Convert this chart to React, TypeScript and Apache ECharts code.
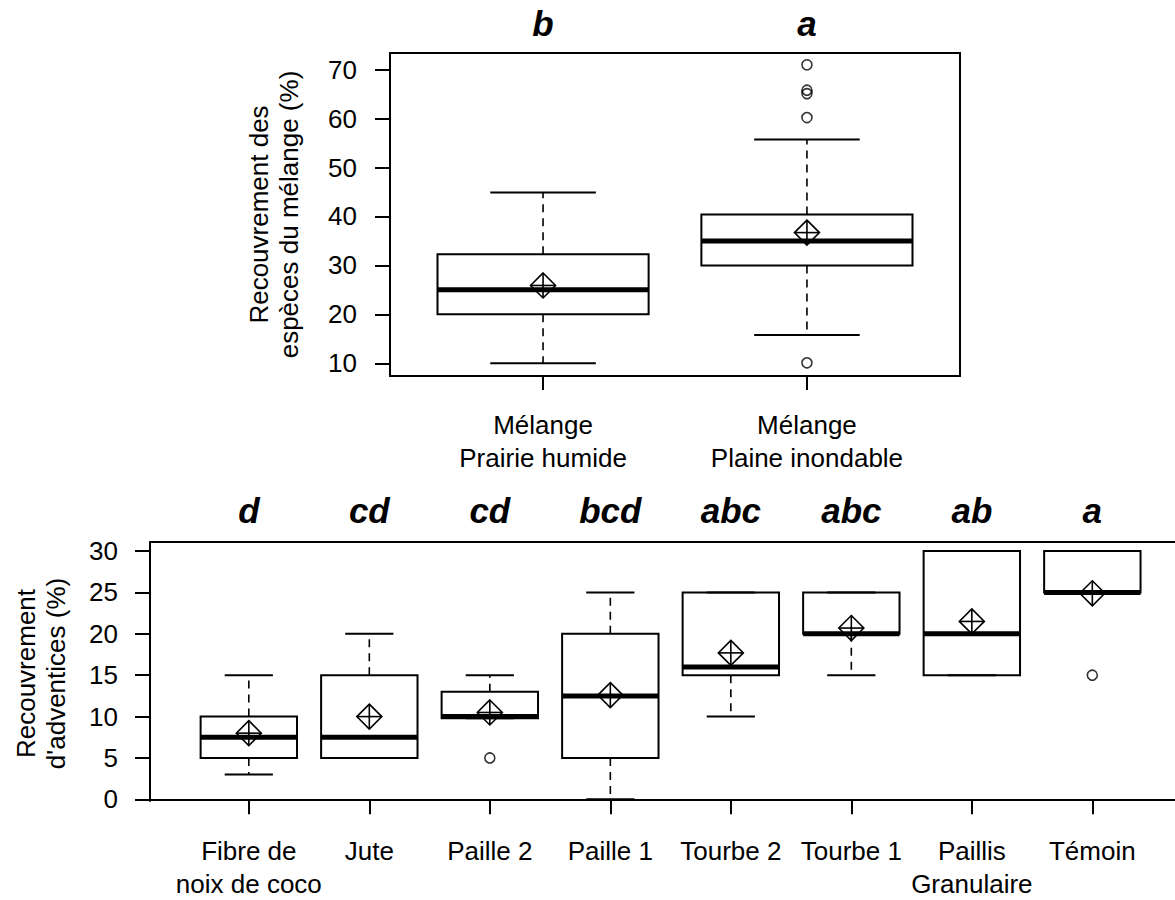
import React, { useEffect, useRef } from "react";
import * as echarts from "echarts";

const FONT = "'Liberation Sans', Arial, Helvetica, sans-serif";

// ---------- Top panel data ----------
const topCategories = ["Mélange\nPrairie humide", "Mélange\nPlaine inondable"];
const topLetters = ["b", "a"];
const topLowerWhisker = [10, 15.8];
const topQ1 = [20, 30];
const topMedian = [25, 35];
const topQ3 = [32.3, 40.4];
const topUpperWhisker = [44.9, 55.7];
const topMean = [25.9, 36.7];
const topOutlierGroup = [2, 2, 2, 2, 2];
const topOutlierValue = [71.0, 65.8, 65.1, 60.2, 10.1];
const topYTicks = [10, 20, 30, 40, 50, 60, 70];
const topYLabel = "Recouvrement des\nespèces du mélange (%)";

// ---------- Bottom panel data ----------
const bottomCategories = [
  "Fibre de\nnoix de coco",
  "Jute",
  "Paille 2",
  "Paille 1",
  "Tourbe 2",
  "Tourbe 1",
  "Paillis\nGranulaire",
  "Témoin",
];
const bottomLetters = ["d", "cd", "cd", "bcd", "abc", "abc", "ab", "a"];
const bottomLowerWhisker = [3, 5, 9.8, 0, 10, 15, 15, 25];
const bottomQ1 = [5, 5, 9.8, 5, 15, 20, 15, 25];
const bottomMedian = [7.5, 7.5, 10, 12.5, 16, 20, 20, 25];
const bottomQ3 = [10, 15, 13, 20, 25, 25, 30, 30];
const bottomUpperWhisker = [15, 20, 15, 25, 25, 25, 30, 30];
const bottomMean = [8, 10, 10.5, 12.6, 17.7, 20.7, 21.5, 24.9];
const bottomOutlierGroup = [3, 8];
const bottomOutlierValue = [5, 15];
const bottomYTicks = [0, 5, 10, 15, 20, 25, 30];
const bottomYLabel = "Recouvrement\nd'adventices (%)";

const BLACK = "#000";

function boxRenderItem(params: any, api: any) {
  const x = api.value(0);
  const lw = api.value(1);
  const q1 = api.value(2);
  const med = api.value(3);
  const q3 = api.value(4);
  const uw = api.value(5);
  const yOf = (v: number) => api.coord([x, v])[1];
  const cx = api.coord([x, med])[0];
  const halfW = api.size([0.8, 0])[0] / 2;
  const capHalf = halfW / 2;
  const yLW = yOf(lw);
  const yQ1 = yOf(q1);
  const yMed = yOf(med);
  const yQ3 = yOf(q3);
  const yUW = yOf(uw);
  const children: any[] = [];
  const dash = { stroke: BLACK, lineWidth: 1.6, lineDash: [8, 6], fill: null };
  const solid = { stroke: BLACK, lineWidth: 2, fill: null };
  if (yQ3 - yUW > 0.5) {
    children.push({ type: "line", shape: { x1: cx, y1: yQ3, x2: cx, y2: yUW }, style: dash });
  }
  if (yLW - yQ1 > 0.5) {
    children.push({ type: "line", shape: { x1: cx, y1: yQ1, x2: cx, y2: yLW }, style: dash });
  }
  children.push({ type: "line", shape: { x1: cx - capHalf, y1: yUW, x2: cx + capHalf, y2: yUW }, style: solid });
  children.push({ type: "line", shape: { x1: cx - capHalf, y1: yLW, x2: cx + capHalf, y2: yLW }, style: solid });
  children.push({
    type: "rect",
    shape: { x: cx - halfW, y: yQ3, width: 2 * halfW, height: yQ1 - yQ3 },
    style: { stroke: BLACK, lineWidth: 2, fill: "none" },
  });
  children.push({
    type: "line",
    shape: { x1: cx - halfW, y1: yMed, x2: cx + halfW, y2: yMed },
    style: { stroke: BLACK, lineWidth: 5, fill: null },
  });
  return { type: "group", children };
}

function meanRenderItem(params: any, api: any) {
  const p = api.coord([api.value(0), api.value(1)]);
  const r = 12.5;
  const st = { stroke: BLACK, lineWidth: 1.6, fill: null };
  return {
    type: "group",
    children: [
      {
        type: "polygon",
        shape: { points: [[p[0], p[1] - r], [p[0] + r, p[1]], [p[0], p[1] + r], [p[0] - r, p[1]]] },
        style: { stroke: BLACK, lineWidth: 1.6, fill: "none" },
      },
      { type: "line", shape: { x1: p[0], y1: p[1] - r, x2: p[0], y2: p[1] + r }, style: st },
      { type: "line", shape: { x1: p[0] - r, y1: p[1], x2: p[0] + r, y2: p[1] }, style: st },
    ],
  };
}

function buildBoxData(lw: number[], q1: number[], med: number[], q3: number[], uw: number[]) {
  return lw.map((_, i) => [i + 1, lw[i], q1[i], med[i], q3[i], uw[i]]);
}

export default function App() {
  const ref = useRef<HTMLDivElement>(null);

  useEffect(() => {
    if (!ref.current) return;
    const chart = echarts.init(ref.current, null, { renderer: "svg" });

    const topPositions = topCategories.map((_, i) => i + 1);
    const bottomPositions = bottomCategories.map((_, i) => i + 1);

    const catLabel = {
      color: BLACK,
      fontFamily: FONT,
      fontSize: 26,
      lineHeight: 33,
    };
    const tickStyle = { show: true, length: 15, lineStyle: { color: BLACK, width: 2 } };
    const frameLine = { show: true, lineStyle: { color: BLACK, width: 2 } };
    const letterLabel = {
      color: BLACK,
      fontFamily: FONT,
      fontSize: 35,
      fontWeight: "bold",
      fontStyle: "italic",
      lineHeight: 30,
    };

    const option: any = {
      animation: false,
      backgroundColor: "#fff",
      grid: [
        { left: 390, top: 53, width: 570, height: 323, show: true, borderColor: BLACK, borderWidth: 2, backgroundColor: "transparent" },
        { left: 150, top: 542, width: 1025, height: 263, show: false },
      ],
      xAxis: [
        {
          type: "value", gridIndex: 0, min: 0.42, max: 2.58, position: "bottom",
          axisLine: { show: false }, splitLine: { show: false },
          axisTick: { ...tickStyle, length: 14, customValues: topPositions },
          axisLabel: { ...catLabel, margin: 32, customValues: topPositions, formatter: (v: number) => topCategories[Math.round(v) - 1] ?? "" },
        },
        {
          type: "value", gridIndex: 0, min: 0.42, max: 2.58, position: "top",
          axisLine: { show: false }, splitLine: { show: false }, axisTick: { show: false },
          axisLabel: { ...letterLabel, margin: 15, customValues: topPositions, formatter: (v: number) => topLetters[Math.round(v) - 1] ?? "" },
        },
        {
          type: "value", gridIndex: 1, min: 0.18, max: 8.686, position: "bottom",
          axisLine: frameLine, splitLine: { show: false },
          axisTick: { ...tickStyle, customValues: bottomPositions },
          axisLabel: { ...catLabel, margin: 33, customValues: bottomPositions, formatter: (v: number) => bottomCategories[Math.round(v) - 1] ?? "" },
        },
        {
          type: "value", gridIndex: 1, min: 0.18, max: 8.686, position: "top",
          axisLine: frameLine, splitLine: { show: false }, axisTick: { show: false },
          axisLabel: { ...letterLabel, margin: 17, customValues: bottomPositions, formatter: (v: number) => bottomLetters[Math.round(v) - 1] ?? "" },
        },
      ],
      yAxis: [
        {
          type: "value", gridIndex: 0, min: 7.4, max: 73.4,
          axisLine: { show: false }, splitLine: { show: false },
          axisTick: { ...tickStyle, customValues: topYTicks },
          axisLabel: { color: BLACK, fontFamily: FONT, fontSize: 26, margin: 33, customValues: topYTicks },
        },
        {
          type: "value", gridIndex: 1, min: -0.2, max: 31.1,
          axisLine: frameLine, splitLine: { show: false },
          axisTick: { ...tickStyle, customValues: bottomYTicks },
          axisLabel: { color: BLACK, fontFamily: FONT, fontSize: 26, margin: 32, customValues: bottomYTicks },
        },
      ],
      graphic: [
        {
          type: "text", x: 273.5, y: 214.5, rotation: Math.PI / 2,
          style: { text: topYLabel, align: "center", verticalAlign: "middle", fontSize: 26, lineHeight: 30, fontFamily: FONT, fill: BLACK },
        },
        {
          type: "text", x: 41, y: 673.5, rotation: Math.PI / 2,
          style: { text: bottomYLabel, align: "center", verticalAlign: "middle", fontSize: 26, lineHeight: 30, fontFamily: FONT, fill: BLACK },
        },
      ],
      series: [
        {
          type: "custom", xAxisIndex: 0, yAxisIndex: 0,
          renderItem: boxRenderItem,
          encode: { x: 0, y: [1, 2, 3, 4, 5] },
          data: buildBoxData(topLowerWhisker, topQ1, topMedian, topQ3, topUpperWhisker),
          z: 2,
        },
        {
          type: "custom", xAxisIndex: 0, yAxisIndex: 0,
          renderItem: meanRenderItem,
          encode: { x: 0, y: 1 },
          data: topMean.map((m, i) => [i + 1, m]),
          z: 3,
        },
        {
          type: "scatter", xAxisIndex: 0, yAxisIndex: 0,
          symbol: "circle", symbolSize: 10,
          itemStyle: { color: "rgba(0,0,0,0)", borderColor: BLACK, borderWidth: 1.6 },
          data: topOutlierGroup.map((g, i) => [g, topOutlierValue[i]]),
          z: 3,
        },
        {
          type: "custom", xAxisIndex: 2, yAxisIndex: 1,
          renderItem: boxRenderItem,
          encode: { x: 0, y: [1, 2, 3, 4, 5] },
          data: buildBoxData(bottomLowerWhisker, bottomQ1, bottomMedian, bottomQ3, bottomUpperWhisker),
          z: 2,
        },
        {
          type: "custom", xAxisIndex: 2, yAxisIndex: 1,
          renderItem: meanRenderItem,
          encode: { x: 0, y: 1 },
          data: bottomMean.map((m, i) => [i + 1, m]),
          z: 3,
        },
        {
          type: "scatter", xAxisIndex: 2, yAxisIndex: 1,
          symbol: "circle", symbolSize: 10,
          itemStyle: { color: "rgba(0,0,0,0)", borderColor: BLACK, borderWidth: 1.6 },
          data: bottomOutlierGroup.map((g, i) => [g, bottomOutlierValue[i]]),
          z: 3,
        },
      ],
    };

    chart.setOption(option);
    return () => chart.dispose();
  }, []);

  return (
    <div
      ref={ref}
      style={{ position: "absolute", left: 0, top: 0, width: 1175, height: 900, background: "#fff" }}
    />
  );
}
